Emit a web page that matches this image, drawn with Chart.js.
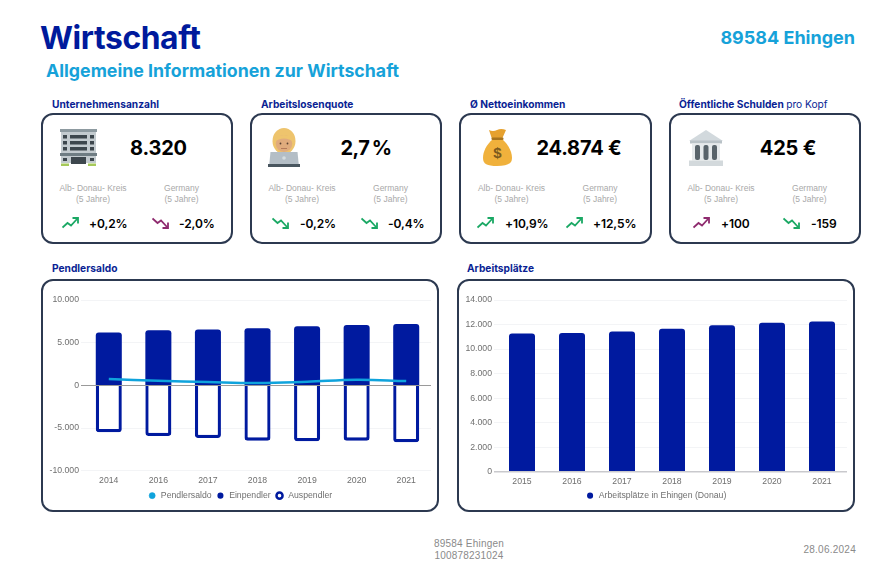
<!DOCTYPE html>
<html lang="de"><head><meta charset="utf-8"><title>Wirtschaft</title>
<script src="https://cdn.jsdelivr.net/npm/chart.js@4/dist/chart.umd.min.js"></script>
<style>
html,body{margin:0;padding:0;background:#fff}
#page{position:relative;width:896px;height:586px;overflow:hidden;font-family:Inter,sans-serif}
#page>*{position:absolute}
.t{white-space:nowrap;transform:translateY(-50%)}
.c{white-space:nowrap;transform:translate(-50%,-50%);text-align:center}
.card{box-sizing:border-box;border:2px solid #2c3950;border-radius:12px;background:#fff}
.h{font-size:10.2px;font-weight:700;color:#0a1f94}
.v{font-size:20px;font-weight:700;color:#000;letter-spacing:-.2px}
.l{font:8.5px/11px "Liberation Sans",sans-serif;color:#a9a9a9}
.d{font-size:12px;font-weight:600;color:#000;letter-spacing:-.1px}
canvas{display:block}
</style></head><body>
<div id="page">
<div class="t" style="left:40px;top:37px;font-size:31.8px;font-weight:700;color:#001a9c;letter-spacing:-.4px">Wirtschaft</div>
<div class="t" style="left:46px;top:70px;font-size:17.75px;font-weight:700;color:#16a2d9">Allgemeine Informationen zur Wirtschaft</div>
<div class="t" style="right:41px;top:37px;font-size:18px;font-weight:700;color:#16a2d9">89584 Ehingen</div>

<div class="t h" style="left:52px;top:104px">Unternehmensanzahl</div>
<div class="t h" style="left:261px;top:104px">Arbeitslosenquote</div>
<div class="t h" style="left:470px;top:104px">Ø Nettoeinkommen</div>
<div class="t h" style="left:679px;top:104px">Öffentliche Schulden <span style="font-weight:400">pro Kopf</span></div>

<div class="card" style="left:41px;top:113px;width:192px;height:131px"></div>
<div class="card" style="left:250px;top:113px;width:192px;height:131px"></div>
<div class="card" style="left:459px;top:113px;width:193px;height:131px"></div>
<div class="card" style="left:669px;top:113px;width:192px;height:131px"></div>

<!-- icons -->
<svg style="left:60px;top:129px" width="37" height="37" viewBox="0 0 37 37">
<rect x="1" y="3" width="35" height="31" fill="#c3cbcf"/><rect x="0" y="0" width="37" height="3" fill="#8d9aa0"/><rect x="0" y="24" width="37" height="3" fill="#6f7d83"/>
<g fill="#3d474d"><rect x="10" y="6" width="17" height="3.5"/><rect x="10" y="12" width="17" height="3.5"/><rect x="10" y="18" width="17" height="3.5"/><rect x="3" y="6" width="4" height="3.5"/><rect x="30" y="6" width="4" height="3.5"/><rect x="3" y="12" width="4" height="3.5"/><rect x="30" y="12" width="4" height="3.5"/><rect x="3" y="18" width="4" height="3.5"/><rect x="30" y="18" width="4" height="3.5"/><rect x="11" y="28" width="15" height="7"/><rect x="3" y="29" width="4" height="3"/><rect x="30" y="29" width="4" height="3"/></g>
<rect x="1" y="34.5" width="8" height="2.5" fill="#a6c95a"/><rect x="28" y="34.5" width="8" height="2.5" fill="#a6c95a"/></svg>

<svg style="left:268px;top:128px" width="32" height="39" viewBox="0 0 32 39">
<path d="M3 39V29q0-4 5-4h16q5 0 5 4v10z" fill="#e0ab7d"/>
<ellipse cx="16" cy="13" rx="11.500" ry="13" fill="#eec46d"/><ellipse cx="16" cy="15.500" rx="8.200" ry="8.500" fill="#e0ab7d"/>
<path d="M6.500 14q1-7 9.500-7t9.500 7q-4-3.500-9.500-3.500t-9.500 3.500z" fill="#eec46d"/>
<circle cx="12.500" cy="15.500" r=".9" fill="#5a4030"/><circle cx="19.500" cy="15.500" r=".9" fill="#5a4030"/><rect x="13" y="20" width="6" height="1" fill="#b57a5a"/>
<path d="M1 39l1.500-15h27L31 39z" fill="#b4bec6"/><rect x="0" y="36" width="32" height="3" fill="#49565f"/><circle cx="16" cy="30" r="1.800" fill="#d5dce0"/></svg>

<svg style="left:483px;top:129px" width="29" height="37" viewBox="0 0 29 37">
<path d="M10 10C3 16 0 23 0 29c0 6 4 8 14 8s15-2 15-8c0-6-3-13-10-19z" fill="#f0b13c"/>
<path d="M6 1q4 2 8 0t9 0l-4 9h-10z" fill="#e6a12f"/><rect x="8.5" y="8.500" width="12" height="2.500" rx="1" fill="#a8741e"/>
<text x="14.500" y="29" text-anchor="middle" font-family="Liberation Sans" font-size="15" font-weight="700" fill="#7b5a1e">$</text></svg>

<svg style="left:688px;top:130px" width="36" height="36" viewBox="0 0 36 36">
<path d="M18 0L35 11H1z" fill="#d2d9dd"/><rect x="2" y="10.500" width="32" height="3" fill="#b9c2c7"/>
<rect x="4" y="13.500" width="28" height="17" fill="#e6eaec"/>
<g fill="#59646b"><rect x="7" y="15" width="5" height="15" rx="2"/><rect x="15.500" y="15" width="5" height="15" rx="2"/><rect x="24" y="15" width="5" height="15" rx="2"/></g>
<rect x="1" y="30.500" width="34" height="5.500" fill="#d3d9dc"/></svg>

<div class="c v" style="left:158.500px;top:147.500px">8.320</div>
<div class="c v" style="left:366px;top:147.500px;word-spacing:-2px;letter-spacing:-.5px">2,7 %</div>
<div class="c v" style="left:579px;top:147.500px">24.874 €</div>
<div class="c v" style="left:788px;top:147.500px">425 €</div>

<div class="c l" style="left:93px;top:194px">Alb- Donau- Kreis<br>(5 Jahre)</div><div class="c l" style="left:181.500px;top:194px">Germany<br>(5 Jahre)</div>
<div class="c l" style="left:302px;top:194px">Alb- Donau- Kreis<br>(5 Jahre)</div><div class="c l" style="left:390.500px;top:194px">Germany<br>(5 Jahre)</div>
<div class="c l" style="left:511.500px;top:194px">Alb- Donau- Kreis<br>(5 Jahre)</div><div class="c l" style="left:600px;top:194px">Germany<br>(5 Jahre)</div>
<div class="c l" style="left:721px;top:194px">Alb- Donau- Kreis<br>(5 Jahre)</div><div class="c l" style="left:809.500px;top:194px">Germany<br>(5 Jahre)</div>

<svg width="0" height="0" style="left:0;top:0"><defs>
<g id="up" fill="none" stroke-width="1.800"><path d="M.5 10.500L5.500 6l3.500 2.500L15.500 1.500"/><path d="M10.500 1h5.500v5.500"/></g>
<g id="dn" fill="none" stroke-width="1.800"><path d="M.5 1.500L5.500 6l3.500-2.500L15.500 10.500"/><path d="M10.500 11h5.500V5.500"/></g>
</defs></svg>
<svg style="left:62px;top:217px" width="17" height="12" stroke="#1aa864"><use href="#up"/></svg><div class="t d" style="left:89px;top:222.500px">+0,2%</div>
<svg style="left:152px;top:217px" width="17" height="12" stroke="#8e2a6e"><use href="#dn"/></svg><div class="t d" style="left:179px;top:222.500px">-2,0%</div>
<svg style="left:272px;top:217px" width="17" height="12" stroke="#1aa864"><use href="#dn"/></svg><div class="t d" style="left:300px;top:222.500px">-0,2%</div>
<svg style="left:361px;top:217px" width="17" height="12" stroke="#1aa864"><use href="#dn"/></svg><div class="t d" style="left:388px;top:222.500px">-0,4%</div>
<svg style="left:477px;top:217px" width="17" height="12" stroke="#1aa864"><use href="#up"/></svg><div class="t d" style="left:505px;top:222.500px">+10,9%</div>
<svg style="left:566px;top:217px" width="17" height="12" stroke="#1aa864"><use href="#up"/></svg><div class="t d" style="left:593px;top:222.500px">+12,5%</div>
<svg style="left:693px;top:217px" width="17" height="12" stroke="#8e2a6e"><use href="#up"/></svg><div class="t d" style="left:721px;top:222.500px">+100</div>
<svg style="left:783px;top:217px" width="17" height="12" stroke="#1aa864"><use href="#dn"/></svg><div class="t d" style="left:811px;top:222.500px">-159</div>

<div class="t h" style="left:52px;top:268px">Pendlersaldo</div>
<div class="t h" style="left:467px;top:268px">Arbeitsplätze</div>
<div class="card" style="left:41px;top:279px;width:398px;height:233px"></div>
<div class="card" style="left:457px;top:279px;width:398px;height:233px"></div>
<div style="left:41px;top:279px;width:398px;height:233px"><canvas id="c1" width="398" height="233"></canvas></div>
<div style="left:457px;top:279px;width:398px;height:233px"><canvas id="c2" width="398" height="233"></canvas></div>

<div class="c" style="left:469px;top:549.500px;font:10px/12px 'Liberation Sans',sans-serif;color:#8a8a8a;letter-spacing:.2px">89584 Ehingen<br>100878231024</div>
<div class="t" style="right:40px;top:549px;font:10px 'Liberation Sans',sans-serif;color:#8a8a8a;letter-spacing:.25px">28.06.2024</div>
</div>
<script>
const pendlerYears = ['2014','2016','2017','2018','2019','2020','2021'];
const pendlersaldo = [745,550,390,275,430,670,510];
const einpendler   = [6200,6470,6550,6700,6940,7060,7180];
const auspendler   = [-5500,-5920,-6160,-6470,-6550,-6470,-6670];
const arbeitsYears = ['2015','2016','2017','2018','2019','2020','2021'];
const arbeitsplaetze = [11270,11320,11430,11650,11950,12140,12250];
const NAVY='#001a9f', CYAN='#0fa3dc', TICK='#6f6f6f';
const font={family:'"Liberation Sans",sans-serif',size:8.7};
function legendOpts(){return {position:'bottom',labels:{usePointStyle:true,boxWidth:8.7,boxHeight:4.3,padding:4.5,color:TICK,font,
  sort:(a,b)=>a.datasetIndex-b.datasetIndex,
  generateLabels(ch){return Chart.defaults.plugins.legend.labels.generateLabels(ch).map(l=>{
    const ds=ch.data.datasets[l.datasetIndex]; l.lineWidth=ds.legendLine; l.pointStyle='circle'; return l;});}}};}
function axes(min,max,step,zeroColor,yw,xh){return {
  x:{stacked:true,afterFit(s){s.height=xh},grid:{display:false,drawTicks:false},border:{display:false},ticks:{color:TICK,font,padding:5,maxRotation:0}},
  y:{min,max,afterFit(s){s.width=yw},border:{display:false},
     grid:{color:c=>c.tick.value===0?zeroColor:'#f3f4f6',lineWidth:c=>c.tick.value===0&&min===0?1.5:1,tickLength:3,drawTicks:true},
     ticks:{stepSize:step,color:TICK,font,padding:2}}};}
Chart.defaults.animation=false;
new Chart(document.getElementById('c1'),{type:'bar',
 data:{labels:pendlerYears,datasets:[
  {type:'line',label:'Pendlersaldo',data:pendlersaldo,borderColor:CYAN,backgroundColor:CYAN,borderWidth:2.5,tension:.4,pointRadius:0,order:0,legendLine:.5},
  {label:'Einpendler',data:einpendler,backgroundColor:NAVY,borderColor:NAVY,borderWidth:0,borderRadius:3,barPercentage:.525,categoryPercentage:1,order:2,legendLine:0},
  {label:'Auspendler',data:auspendler,backgroundColor:'#fff',borderColor:NAVY,borderWidth:3.3,borderRadius:3,barPercentage:.525,categoryPercentage:1,order:1,legendLine:2.5}]},
 options:{responsive:false,locale:'de-DE',layout:{padding:{top:21,right:8,left:8,bottom:2}},
  plugins:{legend:legendOpts(),tooltip:{enabled:false}},scales:axes(-10000,10000,5000,'#9a9a9a',35,16)}});
new Chart(document.getElementById('c2'),{type:'bar',
 data:{labels:arbeitsYears,datasets:[
  {label:'Arbeitsplätze in Ehingen (Donau)',data:arbeitsplaetze,backgroundColor:NAVY,borderColor:NAVY,borderWidth:0,borderRadius:3,barPercentage:.52,categoryPercentage:1,legendLine:0}]},
 options:{responsive:false,locale:'de-DE',layout:{padding:{top:21,right:8,left:8,bottom:2}},
  plugins:{legend:legendOpts(),tooltip:{enabled:false}},scales:axes(0,14000,2000,'#c9c9cd',32,15)}});
</script>
</body></html>
